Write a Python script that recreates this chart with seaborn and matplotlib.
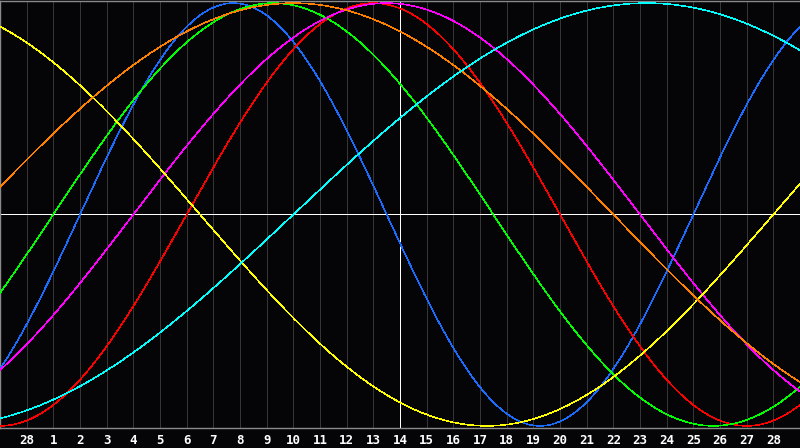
import matplotlib
matplotlib.use("Agg")
import matplotlib.pyplot as plt
import seaborn as sns
import pandas as pd
import numpy as np

# cycles: period in days, day of the upward zero crossing
cycles = ["Physical", "Emotional", "Intellectual", "Intuitive",
          "Aesthetic", "Awareness", "Spiritual"]
periods = [23, 28, 33, 38, 43, 48, 53]
rise_day = [3, 7, 2, 5, 29, -1, 11]
colors = ["#1a6cff", "#ff0000", "#00ff00", "#ff00ff",
          "#ffff00", "#ff8000", "#00ffff"]

tick_labels = ["28"] + [str(d) for d in range(1, 29)]
today_pos = 15

t = np.linspace(0, 30, 801)
rows = []
for name, p, r in zip(cycles, periods, rise_day):
    v = np.sin(2 * np.pi * (t - r) / p)
    rows.append(pd.DataFrame({"t": t, "value": v, "cycle": name}))
df = pd.concat(rows, ignore_index=True)

sns.set_theme(style="dark")
bg = "#050508"
fig = plt.figure(figsize=(8, 4.48), dpi=100, facecolor=bg)
ax = fig.add_axes([0, 20 / 448, 1, 427 / 448], facecolor=bg)

ticks = np.arange(1, len(tick_labels) + 1)
for x in ticks:
    if x != today_pos:
        ax.axvline(x, color="#363636", lw=0.6, zorder=0, antialiased=False)

sns.lineplot(data=df, x="t", y="value", hue="cycle", palette=colors,
             hue_order=cycles, lw=0.4, legend=False, ax=ax, zorder=3,
             antialiased=False)

ax.axhline(0, color="white", lw=0.6, zorder=2, antialiased=False)
ax.axvline(today_pos, color="white", lw=0.6, zorder=2, antialiased=False)

ax.set_xlim(0, 30)
ax.set_ylim(-1.01, 1.01)
ax.set_xticks(ticks)
ax.set_xticklabels(tick_labels, color="white", fontsize=9,
                   fontweight="bold", family="DejaVu Sans Mono")
ax.tick_params(axis="x", length=0, pad=4)
ax.set_yticks([])
ax.set_xlabel("")
ax.set_ylabel("")
ax.grid(False)
for side in ["left", "top", "bottom"]:
    ax.spines[side].set_color("#8a8a8a")
    ax.spines[side].set_linewidth(1.0)
ax.spines["right"].set_visible(False)

fig.savefig("out.png", dpi=100, facecolor=bg)
